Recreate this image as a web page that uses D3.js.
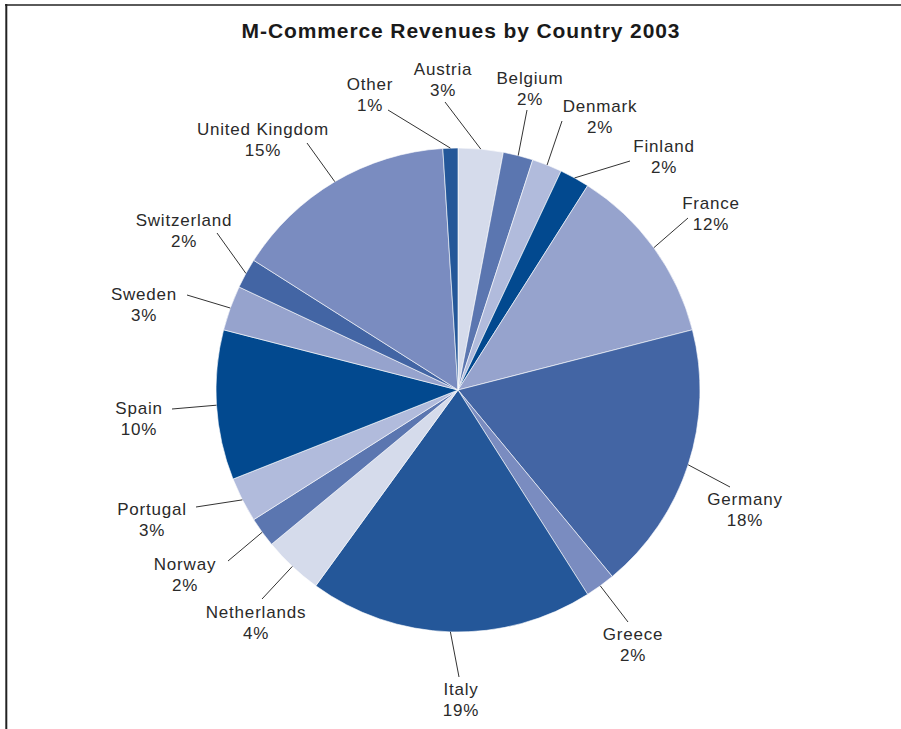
<!DOCTYPE html>
<html>
<head>
<meta charset="utf-8">
<script src="https://cdn.jsdelivr.net/npm/d3@7"></script>
<style>
  html, body { margin: 0; padding: 0; background: #fff; }
  svg { display: block; }
</style>
</head>
<body>
<script>
// Share of m-commerce revenue by country, clockwise from 12 o'clock
const countries = ["Austria", "Belgium", "Denmark", "Finland", "France", "Germany", "Greece", "Italy",
                   "Netherlands", "Norway", "Portugal", "Spain", "Sweden", "Switzerland", "United Kingdom", "Other"];
const shares = [3, 2, 2, 2, 12, 18, 2, 19, 4, 2, 3, 10, 3, 2, 15, 1];
const title = "M-Commerce Revenues by Country 2003";

// Eight-step blue cycle used around the pie
const palette = ["#d5dbeb", "#5b76b0", "#b1bbdc", "#02498f", "#96a3cd", "#4365a4", "#7a8cc0", "#245799"];

// Label placement relative to the pie centre: [text x, first baseline y, leader end x, leader end y]
const labelLayout = {
  "Austria":        [-15, -315, -13, -288],
  "Belgium":        [ 72, -306,  69, -280],
  "Denmark":        [142, -278, 104, -269],
  "Finland":        [206, -238, 172, -229],
  "France":         [253, -181, 230, -172],
  "Germany":        [287,  115, 272,   97],
  "Greece":         [175,  250, 170,  232],
  "Italy":          [  3,  305,   1,  287],
  "Netherlands":    [-202, 228, -196, 209],
  "Norway":         [-273, 180, -230, 171],
  "Portugal":       [-306, 125, -262, 117],
  "Spain":          [-319,  24, -286,  19],
  "Sweden":         [-314, -90, -271, -95],
  "Switzerland":    [-274, -164, -241, -157],
  "United Kingdom": [-195, -255, -151, -247],
  "Other":          [-88, -300, -70, -280]
};

const W = 901, H = 729;
const cx = 458, cy = 390, R = 242;

const svg = d3.select("body").append("svg")
  .attr("width", W).attr("height", H);

// Frame: top rule and left rule
svg.append("line").attr("x1", 5).attr("x2", W).attr("y1", 5).attr("y2", 5)
  .attr("stroke", "#5a5a5a").attr("stroke-width", 2);
svg.append("line").attr("x1", 6.3).attr("x2", 6.3).attr("y1", 4).attr("y2", H)
  .attr("stroke", "#222").attr("stroke-width", 2);

svg.append("text")
  .attr("x", 461).attr("y", 38)
  .attr("text-anchor", "middle")
  .attr("font-family", "'Liberation Sans', Arial, sans-serif")
  .attr("font-weight", "bold")
  .attr("font-size", 21)
  .attr("letter-spacing", 0.9)
  .attr("fill", "#1a1a1a")
  .text(title);

const data = countries.map((c, i) => ({ country: c, share: shares[i] }));

const pie = d3.pie().sort(null).value(d => d.share);
const arcs = pie(data);
const arc = d3.arc().innerRadius(0).outerRadius(R);
const rim = d3.arc().innerRadius(R).outerRadius(R);
const color = d3.scaleOrdinal().domain(countries).range(palette);

const g = svg.append("g").attr("transform", `translate(${cx},${cy})`);

g.selectAll("path.slice").data(arcs).join("path")
  .attr("class", "slice")
  .attr("d", arc)
  .attr("fill", d => color(d.data.country))
  .attr("stroke", "#ffffff")
  .attr("stroke-width", 0.6);

// Leader lines from the rim at each slice's mid angle out to its label
g.selectAll("line.leader").data(arcs).join("line")
  .attr("class", "leader")
  .attr("x1", d => rim.centroid(d)[0])
  .attr("y1", d => rim.centroid(d)[1])
  .attr("x2", d => labelLayout[d.data.country][2])
  .attr("y2", d => labelLayout[d.data.country][3])
  .attr("stroke", "#333")
  .attr("stroke-width", 1);

const labels = g.selectAll("text.label").data(arcs).join("text")
  .attr("class", "label")
  .attr("text-anchor", "middle")
  .attr("font-family", "'Liberation Sans', Arial, sans-serif")
  .attr("font-size", 17)
  .attr("letter-spacing", 0.8)
  .attr("fill", "#2a2a2a");

labels.append("tspan")
  .attr("x", d => labelLayout[d.data.country][0])
  .attr("y", d => labelLayout[d.data.country][1])
  .text(d => d.data.country);
labels.append("tspan")
  .attr("x", d => labelLayout[d.data.country][0])
  .attr("y", d => labelLayout[d.data.country][1] + 20.5)
  .text(d => d.data.share + "%");
</script>
</body>
</html>
